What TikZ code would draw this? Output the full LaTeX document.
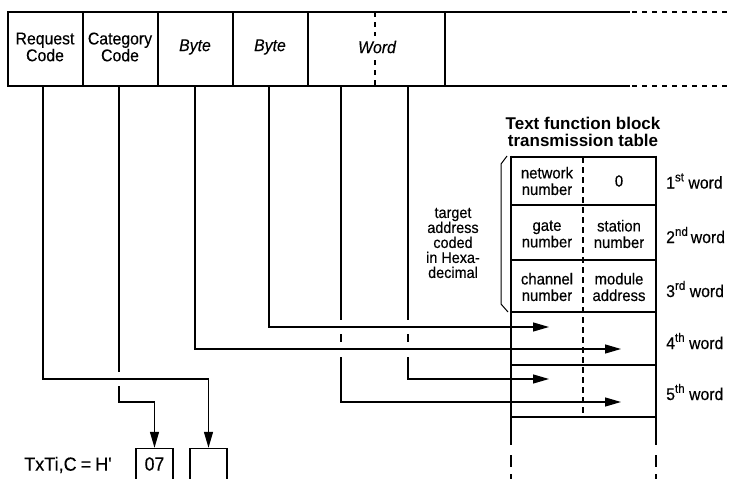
\documentclass[tikz,border=0pt]{standalone}
\usepackage{fontspec}
\setmainfont{Liberation Sans}[FakeBold=0.35,FakeStretch=0.93]
\newfontfamily\plainfont{Liberation Sans}[Ligatures=TeXOff,FakeBold=0.35,FakeStretch=0.95]
\newfontfamily\hdrfont{Liberation Sans Bold}
\usetikzlibrary{arrows.meta}
\newcommand{\supx}[1]{\raisebox{0.42em}{\fontsize{12.5}{12.5}\selectfont #1}}
\begin{document}
\begin{tikzpicture}[x=1pt,y=-1pt,
  txt/.style={font=\fontsize{17}{15.5}\selectfont,align=center,inner sep=0pt},
  small/.style={font=\fontsize{16}{16.5}\selectfont,align=center,inner sep=0pt},
  thin/.style={line width=1.3pt},
  thick tab/.style={line width=2.8pt},
  dsh/.style={line width=1.3pt,dash pattern=on 5pt off 5pt},
  arr/.style={line width=1.3pt,-{Triangle[length=16pt,width=9pt]}},
  box/.style={draw,line width=1.4pt,minimum width=37pt,minimum height=31pt,inner sep=0pt,font=\fontsize{19}{19}\selectfont}
]
\useasboundingbox (0,0) rectangle (732,479);
% ---------- top frame ----------
\draw[thin] (8,12) rectangle (445,86);
\foreach \x in {83,158,233,308} \draw[thin] (\x,12) -- (\x,86);
\draw[thin] (445,12) -- (630,12) (445,86) -- (630,86);
\draw[dsh] (632,12) -- (732,12) (632,86) -- (732,86);
\draw[dsh] (375,12) -- (375,36) (375,60) -- (375,86);
\node[txt] (rc) at (45,47) {Request\\Code};
\node[txt] (cc) at (120,47) {Category\\Code};
\node[txt] (b1) at (195,47) {\itshape Byte};
\node[txt] (b2) at (270,47) {\itshape Byte};
\node[txt] (wd) at (377,47) {\itshape Word};
% ---------- table ----------
\node[font=\fontsize{17}{17}\hdrfont,align=center,inner sep=0pt] (hdr) at (583,132) {Text function block\\transmission table};
\draw[dsh,dash pattern=on 6pt off 4pt] (583,157) -- (583,417);
\foreach \y in {205,260,312,365} \draw[thick tab] (511,\y) -- (656,\y);
\draw[thick tab] (511,157) -- (656,157) (511,417) -- (656,417);
\draw[thick tab] (511,155.6) -- (511,445) (656,155.6) -- (656,445);
\draw[thick tab] (511,455) -- (511,467) (656,455) -- (656,467);
\draw[thick tab] (511,474) -- (511,479) (656,474) -- (656,479);
\node[small] (c11) at (547,181) {network\\number};
\node[small] (c12) at (619,181) {0};
\node[small] (c21) at (547,234) {gate\\number};
\node[small] (c22) at (619,234) {station\\number};
\node[small] (c31) at (547,287) {channel\\number};
\node[small] (c32) at (619,287) {module\\address};
\node[txt,anchor=west] (w1) at (666,181) {1\supx{st} word};
\node[txt,anchor=west] (w2) at (666,235) {2\supx{nd}\,word};
\node[txt,anchor=west] (w3) at (666,289) {3\supx{rd} word};
\node[txt,anchor=west] (w4) at (666,341) {4\supx{th} word};
\node[txt,anchor=west] (w5) at (666,392) {5\supx{th} word};
% bracket and note
\draw[line width=1pt] (507,156) -- (501,164) -- (501,304) -- (508,312);
\node[font=\fontsize{15.5}{15}\selectfont,align=center,inner sep=0pt] (note) at (453,243) {target\\address\\coded\\in Hexa-\\decimal};
% ---------- bottom boxes ----------
\node[txt,anchor=west,font=\fontsize{19}{19}\plainfont] (eq) at (24,465) {TxTi,C\hspace{4pt}=\hspace{4pt}H'};
\node[box] (bx1) at (154.5,464) {07};
\node[box] (bx2) at (208.5,464) {};
% ---------- connectors ----------
\coordinate (rcb) at (43,86); \coordinate (ccb) at (119,86);
\coordinate (b1b) at (195,86); \coordinate (b2b) at (269,86);
\coordinate (whb) at (341,86); \coordinate (wlb) at (408,86);
% request code -> empty box
\draw[thin] (rcb) -- (43,379) -- (208.5,379);
\draw[arr] (208.5,379) -- (bx2.north);
% category code -> 07 box, gap at crossing
\draw[thin] (ccb) -- (119,372);
\draw[thin] (119,386) -- (119,402) -- (154.5,402);
\draw[arr] (154.5,402) -- (bx1.north);
% byte 1 -> 4th word right half
\draw[arr] (b1b) -- (195,349) -- (621,349);
% byte 2 -> 4th word left half
\draw[arr] (b2b) -- (269,327) -- (549,327);
% word high -> 5th word right half
\draw[thin] (whb) -- (341,320) (341,334) -- (341,342);
\draw[arr] (341,357) -- (341,402) -- (621,402);
% word low -> 5th word left half
\draw[thin] (wlb) -- (408,320) (408,334) -- (408,342);
\draw[arr] (408,357) -- (408,379) -- (549,379);
\end{tikzpicture}
\end{document}
